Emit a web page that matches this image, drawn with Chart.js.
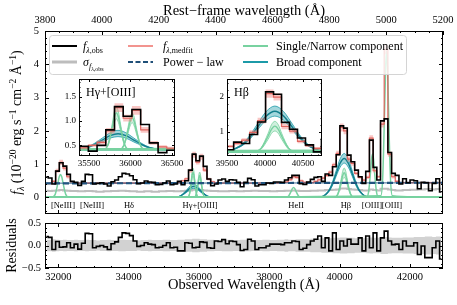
<!DOCTYPE html>
<html>
<head>
<meta charset="utf-8">
<script src="https://cdn.jsdelivr.net/npm/chart.js@4.4.1/dist/chart.umd.min.js"></script>
<style>
  body { margin: 0; background: #fff; }
  #wrap { position: relative; width: 457px; height: 305px; overflow: hidden; background: #fff; }
  #wrap canvas { position: absolute; }
</style>
</head>
<body>
<div id="wrap">
  <canvas id="mainChart" width="457" height="222" style="left:0;top:0"></canvas>
  <canvas id="resChart" width="457" height="87" style="left:0;top:218px"></canvas>
  <canvas id="insetHg" width="132" height="104" style="left:55px;top:72px"></canvas>
  <canvas id="insetHb" width="124" height="104" style="left:203px;top:72px"></canvas>
</div>
<script>
const FONT = 'Liberation Serif';
Chart.defaults.font.family = FONT;
Chart.defaults.color = '#000';
Chart.defaults.animation = false;
Chart.defaults.plugins.legend.display = false;
Chart.defaults.plugins.tooltip.enabled = false;

// observed spectrum, bin centres in observed Angstrom
const obsWave = [
  31660,31765,31870,31975,32080,32185,32290,32395,32500,32605,
  32710,32815,32920,33025,33130,33235,33340,33445,33550,33655,
  33760,33865,33970,34075,34180,34285,34390,34495,34600,34705,
  34810,34915,35020,35125,35230,35335,35440,35545,35650,35755,
  35860,35965,36070,36175,36280,36385,36490,36595,36700,36805,
  36910,37015,37120,37225,37330,37435,37540,37645,37750,37855,
  37960,38065,38170,38275,38380,38485,38590,38695,38800,38905,
  39010,39115,39220,39325,39430,39535,39640,39745,39850,39955,
  40060,40165,40270,40375,40480,40585,40690,40795,40900,41005,
  41110,41215,41320,41425,41530,41635,41740,41845,41950,42055,
  42160,42265,42370,42475,42580,42685,42790,42895
];
const obsFlux = [
  0.62,0.58,0.40,0.79,1.04,0.94,0.69,0.48,0.45,0.36,
  0.48,0.69,0.68,0.40,0.42,0.44,0.40,0.34,0.47,0.52,
  0.62,0.72,0.70,0.65,0.53,0.41,0.43,0.49,0.46,0.45,
  0.38,0.39,0.43,0.49,0.38,0.40,0.48,0.38,0.50,0.82,
  1.30,1.10,1.24,0.93,0.55,0.35,0.40,0.52,0.55,0.48,
  0.53,0.52,0.45,0.32,0.45,0.57,0.53,0.34,0.38,0.38,
  0.43,0.42,0.46,0.46,0.45,0.52,0.59,0.66,0.66,0.41,
  0.39,0.46,0.54,0.60,0.62,0.48,0.70,0.66,0.92,1.28,
  2.15,2.08,1.27,1.07,0.82,0.62,0.42,0.78,1.72,0.90,
  0.52,2.30,2.36,1.35,0.72,0.66,0.40,0.56,0.44,0.52,
  0.50,0.26,0.45,0.44,0.20,0.42,0.56,0.16
];
const obsSigma = [
  0.20,0.19,0.20,0.21,0.22,0.21,0.20,0.19,0.19,0.18,
  0.18,0.19,0.19,0.18,0.17,0.17,0.18,0.18,0.19,0.19,
  0.20,0.20,0.19,0.18,0.18,0.17,0.17,0.18,0.18,0.17,
  0.17,0.18,0.18,0.19,0.19,0.18,0.18,0.19,0.20,0.21,
  0.23,0.23,0.22,0.21,0.20,0.19,0.19,0.18,0.18,0.18,
  0.19,0.19,0.18,0.18,0.19,0.19,0.20,0.20,0.19,0.19,
  0.19,0.18,0.18,0.19,0.19,0.20,0.20,0.21,0.20,0.19,
  0.19,0.19,0.20,0.20,0.21,0.21,0.22,0.22,0.23,0.24,
  0.27,0.27,0.25,0.24,0.23,0.22,0.21,0.21,0.24,0.22,
  0.21,0.26,0.26,0.24,0.22,0.21,0.21,0.22,0.22,0.23,
  0.23,0.24,0.24,0.25,0.25,0.24,0.25,0.26
];
// median fit and its spread
const fitFlux = [
  0.42,0.42,0.48,0.80,1.05,0.88,0.62,0.47,0.43,0.43,
  0.43,0.43,0.43,0.43,0.43,0.43,0.43,0.43,0.43,0.43,
  0.43,0.43,0.43,0.43,0.43,0.43,0.43,0.43,0.43,0.43,
  0.43,0.43,0.43,0.43,0.43,0.43,0.45,0.50,0.56,0.80,
  1.28,1.06,1.22,0.82,0.55,0.47,0.44,0.43,0.43,0.43,
  0.43,0.43,0.43,0.43,0.43,0.43,0.43,0.43,0.43,0.43,
  0.43,0.43,0.43,0.43,0.43,0.46,0.53,0.62,0.60,0.50,
  0.45,0.44,0.44,0.48,0.53,0.58,0.66,0.76,0.98,1.32,
  2.10,2.00,1.15,1.02,0.72,0.60,0.52,0.60,1.78,0.80,
  0.62,2.20,4.45,1.30,0.62,0.48,0.44,0.44,0.44,0.44,
  0.44,0.44,0.44,0.44,0.44,0.44,0.44,0.44
];
const fitErr = [
  0.03,0.03,0.04,0.06,0.08,0.07,0.05,0.03,0.03,0.03,
  0.03,0.03,0.03,0.03,0.03,0.03,0.03,0.03,0.03,0.03,
  0.03,0.03,0.03,0.03,0.03,0.03,0.03,0.03,0.03,0.03,
  0.03,0.03,0.03,0.03,0.03,0.03,0.03,0.03,0.04,0.06,
  0.09,0.07,0.09,0.06,0.04,0.03,0.03,0.03,0.03,0.03,
  0.03,0.03,0.03,0.03,0.03,0.03,0.03,0.03,0.03,0.03,
  0.03,0.03,0.03,0.03,0.03,0.03,0.04,0.05,0.05,0.04,
  0.03,0.03,0.03,0.03,0.04,0.04,0.05,0.05,0.06,0.08,
  0.12,0.10,0.08,0.07,0.05,0.04,0.04,0.05,0.09,0.05,
  0.04,0.10,0.15,0.08,0.05,0.04,0.03,0.03,0.03,0.03,
  0.03,0.03,0.03,0.03,0.03,0.03,0.03,0.03
];
// residual panel
const resid = [
  0.20,0.18,-0.09,0.09,-0.04,-0.03,0.06,-0.05,0.03,-0.08,
  0.05,0.27,0.26,-0.05,-0.02,0.00,-0.03,-0.09,0.04,0.08,
  0.18,0.28,0.27,0.22,0.10,-0.02,0.00,0.06,0.03,0.02,
  -0.05,-0.04,0.00,0.06,-0.05,-0.04,-0.12,-0.12,0.06,0.05,
  -0.05,-0.04,0.08,0.07,-0.05,-0.06,0.10,0.09,0.13,0.04,
  0.10,0.09,0.02,-0.11,-0.09,0.14,0.10,-0.09,-0.05,-0.05,
  -0.01,0.03,0.03,0.03,0.02,0.06,0.06,0.10,0.09,-0.09,
  -0.06,0.02,0.10,0.14,0.21,-0.05,0.17,-0.12,0.28,-0.09,
  0.10,-0.01,0.14,0.03,0.03,0.17,-0.12,0.21,-0.05,0.28,
  -0.12,0.17,0.32,0.10,0.02,0.03,-0.09,0.10,-0.01,-0.01,
  0.06,-0.20,-0.01,-0.27,-0.27,-0.05,0.10,-0.30
];
const residErr = [
  0.13,0.13,0.14,0.13,0.12,0.13,0.12,0.12,0.13,0.12,
  0.12,0.13,0.12,0.12,0.11,0.12,0.12,0.13,0.12,0.12,
  0.13,0.13,0.12,0.12,0.12,0.11,0.12,0.12,0.13,0.12,
  0.12,0.12,0.13,0.13,0.12,0.12,0.13,0.13,0.14,0.14,
  0.15,0.15,0.14,0.14,0.13,0.13,0.12,0.12,0.13,0.13,
  0.13,0.12,0.12,0.13,0.13,0.13,0.12,0.12,0.12,0.13,
  0.13,0.12,0.12,0.13,0.13,0.14,0.13,0.13,0.14,0.14,
  0.14,0.14,0.15,0.15,0.15,0.16,0.16,0.16,0.17,0.17,
  0.18,0.18,0.17,0.17,0.16,0.16,0.16,0.17,0.18,0.17,
  0.17,0.19,0.19,0.18,0.17,0.17,0.17,0.18,0.18,0.18,
  0.19,0.19,0.19,0.20,0.20,0.19,0.20,0.20
];

// power-law continuum
const plWave = [31620, 42940];
const plFlux = [0.42, 0.44];
const plLo = [0.40, 0.42];
const plHi = [0.445, 0.465];

// single / narrow components
const neiiiWave = [31835,31910,31985,32023,32060,32098,32135,32210,32285];
const neiiiFlux = [0.01,0.09,0.42,0.61,0.69,0.61,0.42,0.09,0.01];
const heiiWave = [38480,38550,38620,38655,38690,38725,38760,38830,38900];
const heiiFlux = [0.00,0.04,0.18,0.26,0.30,0.26,0.18,0.04,0.00];
const o4959Wave = [40771,40826,40881,40909,40936,40964,40991,41046,41101];
const o4959Flux = [0.01,0.18,0.79,1.15,1.30,1.15,0.79,0.18,0.01];
const o5007Wave = [41170,41225,41280,41308,41335,41363,41390,41445,41500];
const o5007Flux = [0.05,0.59,2.67,3.88,4.40,3.88,2.67,0.59,0.05];
const hgnWave = [35680,35730,35780,35805,35830,35855,35880,35930,35980];
const hgnLo = [0.01,0.09,0.39,0.56,0.64,0.56,0.39,0.09,0.01];
const hgnMid = [0.01,0.10,0.46,0.67,0.76,0.67,0.46,0.10,0.01];
const hgnHi = [0.01,0.12,0.53,0.78,0.88,0.78,0.53,0.12,0.01];
const o4363Wave = [35870,35920,35970,35995,36020,36045,36070,36120,36170];
const o4363Lo = [0.01,0.08,0.34,0.49,0.56,0.49,0.34,0.08,0.01];
const o4363Mid = [0.01,0.09,0.40,0.58,0.66,0.58,0.40,0.09,0.01];
const o4363Hi = [0.01,0.10,0.46,0.67,0.76,0.67,0.46,0.10,0.01];
const hbnWave = [39860,39950,40040,40085,40130,40175,40220,40310,40400];
const hbnLo = [0.01,0.08,0.36,0.53,0.60,0.53,0.36,0.08,0.01];
const hbnMid = [0.01,0.10,0.45,0.65,0.74,0.65,0.45,0.10,0.01];
const hbnHi = [0.01,0.12,0.53,0.78,0.88,0.78,0.53,0.12,0.01];
// broad components
const hgbWave = [35280,35470,35565,35660,35755,35850,35945,36040,36135,36230,36420];
const hgbLo = [0.00,0.04,0.09,0.16,0.24,0.27,0.24,0.16,0.09,0.04,0.00];
const hgbMid = [0.00,0.04,0.11,0.20,0.29,0.33,0.29,0.20,0.11,0.04,0.00];
const hgbHi = [0.00,0.05,0.13,0.24,0.35,0.40,0.35,0.24,0.13,0.05,0.00];
const hbbWave = [39440,39670,39785,39900,40015,40130,40245,40360,40475,40590,40820];
const hbbLo = [0.01,0.14,0.33,0.63,0.91,1.03,0.91,0.63,0.33,0.14,0.01];
const hbbMid = [0.01,0.16,0.38,0.71,1.03,1.17,1.03,0.71,0.38,0.16,0.01];
const hbbHi = [0.01,0.18,0.43,0.80,1.16,1.32,1.16,0.80,0.43,0.18,0.01];

// continuum level the insets add under the components
const insetBase = [0.41, 0.42];

// line labels along the bottom of the main panel
const lineLabelText = ['[NeIII]', '[NeIII]', 'H\u03b4', 'H\u03b3+[OIII]', 'HeII', 'H\u03b2', '[OIII]', '[OIII]'];
const lineLabelWave = [32130, 32960, 34010, 36030, 38760, 40180, 40920, 41490];

// axes
const xMin = 31620, xMax = 42940;
const obsTicks = [32000, 34000, 36000, 38000, 40000, 42000];
const restTicks = [3800, 4000, 4200, 4400, 4600, 4800, 5000, 5200];
const fluxTicks = [0, 1, 2, 3, 4, 5];
const residTicks = [-0.5, 0, 0.5];

const BLACK = '#000', GRAY = '#bdbdbd', RED = '#e0645e', PINK = 'rgba(242,128,124,0.45)';
const PL = '#1f4f78', PL_FILL = 'rgba(37,92,135,0.6)';
const GREEN = '#78d2a0', GREEN_FILL = 'rgba(120,210,160,0.35)';
const TEAL = '#1c9aa8', TEAL_DARK = '#137f8d', TEAL_FILL = 'rgba(28,154,168,0.4)';

function steps(a, b, st) {
  const out = [];
  for (let v = Math.ceil(a / st - 1e-9) * st; v <= b + 1e-9; v += st) out.push(+v.toFixed(6));
  return out;
}

function axis(pos, min, max, ticks, fmt, size, fontSize, pad, title) {
  const horiz = pos === 'top' || pos === 'bottom';
  return {
    type: 'linear', position: pos, min: min, max: max,
    grid: { display: false, drawTicks: false },
    border: { display: false },
    ticks: { display: !!fmt, autoSkip: false, maxRotation: 0, padding: pad || 0,
             font: { size: fontSize || 10 }, color: '#000', callback: fmt || (() => '') },
    title: title || { display: false },
    afterBuildTicks: s => { s.ticks = ticks.map(v => ({ value: v })); },
    afterFit: s => {
      if (horiz) s.height = size; else s.width = size;
      s.paddingLeft = 0; s.paddingRight = 0; s.paddingTop = 0; s.paddingBottom = 0;
    }
  };
}

function framePlugin(spec, majLen, minLen) {
  return {
    id: 'frame',
    afterDatasetsDraw(chart) {
      const ctx = chart.ctx, a = chart.chartArea;
      ctx.save();
      ctx.strokeStyle = '#000';
      ctx.lineWidth = 1;
      spec.forEach(t => {
        const sc = chart.scales[t.axis];
        const one = (v, len) => {
          if (v < sc.min || v > sc.max) return;
          const p = Math.round(sc.getPixelForValue(v)) + 0.5;
          ctx.beginPath();
          if (t.side === 'bottom') { ctx.moveTo(p, a.bottom); ctx.lineTo(p, a.bottom - len); }
          else if (t.side === 'top') { ctx.moveTo(p, a.top); ctx.lineTo(p, a.top + len); }
          else if (t.side === 'left') { ctx.moveTo(a.left, p); ctx.lineTo(a.left + len, p); }
          else { ctx.moveTo(a.right, p); ctx.lineTo(a.right - len, p); }
          ctx.stroke();
        };
        t.major.forEach(v => one(v, majLen));
        t.minor.forEach(v => one(v, minLen));
      });
      ctx.strokeRect(a.left + 0.5, a.top + 0.5, a.right - a.left - 1, a.bottom - a.top - 1);
      ctx.restore();
    }
  };
}

// text with sub/superscripts
function richText(ctx, x, y, segs, base, center) {
  let w = 0;
  const fontOf = s => (s.it ? 'italic ' : '') + (s.s || base) + 'px ' + FONT;
  segs.forEach(s => { ctx.font = fontOf(s); s.w = ctx.measureText(s.t).width; w += s.w; });
  let cx = center ? x - w / 2 : x;
  segs.forEach(s => { ctx.font = fontOf(s); ctx.fillText(s.t, cx, y + (s.dy || 0)); cx += s.w; });
}

const stepPts = ys => obsWave.map((x, i) => ({ x: x, y: ys[i] }));
const ds = (data, color, width, order, extra) => Object.assign({
  data: data, borderColor: color, borderWidth: width, pointRadius: 0, fill: false, order: order, clip: 0
}, extra || {});

function componentSets(base) {
  const out = [];
  const pts = (xs, ys) => [{ x: xMin, y: base }].concat(xs.map((x, i) => ({ x: x, y: ys[i] + base })), [{ x: xMax, y: base }]);
  const cub = { cubicInterpolationMode: 'monotone' };
  [[hgbWave, hgbLo, hgbMid, hgbHi], [hbbWave, hbbLo, hbbMid, hbbHi]].forEach(c => {
    out.push(ds(pts(c[0], c[1]), TEAL, 0.8, 8, cub));
    out.push(ds(pts(c[0], c[3]), TEAL, 0.8, 8, Object.assign({ fill: '-1', backgroundColor: TEAL_FILL }, cub)));
    out.push(ds(pts(c[0], c[2]), TEAL_DARK, 1.4, 7, cub));
  });
  [[hgnWave, hgnLo, hgnMid, hgnHi], [o4363Wave, o4363Lo, o4363Mid, o4363Hi], [hbnWave, hbnLo, hbnMid, hbnHi]].forEach(c => {
    out.push(ds(pts(c[0], c[1]), GREEN, 0.8, 7, cub));
    out.push(ds(pts(c[0], c[3]), GREEN, 0.8, 7, Object.assign({ fill: '-1', backgroundColor: GREEN_FILL }, cub)));
    out.push(ds(pts(c[0], c[2]), GREEN, 1.4, 6, cub));
  });
  [[neiiiWave, neiiiFlux], [heiiWave, heiiFlux], [o4959Wave, o4959Flux], [o5007Wave, o5007Flux]].forEach(c => {
    out.push(ds(pts(c[0], c[1]), GREEN, 1.5, 6, cub));
  });
  return out;
}

function fitSets() {
  return [
    ds(stepPts(fitFlux.map((v, i) => v - fitErr[i])), 'rgba(0,0,0,0)', 0, 5, { stepped: 'middle' }),
    ds(stepPts(fitFlux.map((v, i) => v + fitErr[i])), 'rgba(0,0,0,0)', 0, 5, { stepped: 'middle', fill: '-1', backgroundColor: PINK }),
    ds(stepPts(fitFlux), RED, 1.2, 4, { stepped: 'middle' }),
    ds(stepPts(obsFlux), BLACK, 1.6, 2, { stepped: 'middle' })
  ];
}

// ---------- main panel ----------
const mainSets = [ds(stepPts(obsSigma), GRAY, 2, 9, { stepped: 'middle' })]
  .concat(componentSets(0), fitSets(), [
    ds(plWave.map((x, i) => ({ x: x, y: plLo[i] })), 'rgba(0,0,0,0)', 0, 3),
    ds(plWave.map((x, i) => ({ x: x, y: plHi[i] })), 'rgba(0,0,0,0)', 0, 3, { fill: '-1', backgroundColor: PL_FILL }),
    ds(plWave.map((x, i) => ({ x: x, y: plFlux[i] })), PL, 2.2, 3, { borderDash: [6, 3] })
  ]);

const mainDecor = {
  id: 'mainDecor',
  afterDraw(chart) {
    const ctx = chart.ctx, a = chart.chartArea, sx = chart.scales.x;
    ctx.save();
    ctx.fillStyle = '#000';
    // y label
    ctx.save();
    ctx.translate(21, (a.top + a.bottom) / 2);
    ctx.rotate(-Math.PI / 2);
    ctx.textBaseline = 'alphabetic';
    richText(ctx, 0, 0, [
      { t: 'f', it: true }, { t: '\u03bb', it: true, s: 9.5, dy: 3 }, { t: ' (10' }, { t: '\u221220', s: 9.5, dy: -5 },
      { t: ' erg s' }, { t: '\u22121', s: 9.5, dy: -5 }, { t: ' cm' }, { t: '\u22122', s: 9.5, dy: -5 },
      { t: ' \u00c5' }, { t: '\u22121', s: 9.5, dy: -5 }, { t: ')' }
    ], 14, true);
    ctx.restore();
    // line labels
    ctx.font = '8.5px ' + FONT;
    ctx.textAlign = 'center';
    ctx.textBaseline = 'middle';
    lineLabelText.forEach((t, i) => ctx.fillText(t, sx.getPixelForValue(lineLabelWave[i]), 206));
    ctx.textAlign = 'left';
    // legend
    const bx = 49, by = 35, bw = 357, bh = 39;
    ctx.beginPath();
    ctx.roundRect(bx + 0.5, by + 0.5, bw, bh, 3);
    ctx.fillStyle = 'rgba(255,255,255,0.8)';
    ctx.fill();
    ctx.strokeStyle = '#d4d4d4';
    ctx.lineWidth = 1;
    ctx.stroke();
    const handle = (x, y, color, w, dash) => {
      ctx.beginPath();
      ctx.setLineDash(dash || []);
      ctx.strokeStyle = color; ctx.lineWidth = w;
      ctx.moveTo(x, y); ctx.lineTo(x + 25, y); ctx.stroke();
      ctx.setLineDash([]);
    };
    const r1 = 46, r2 = 62;
    handle(52, r1, BLACK, 2); handle(52, r2, GRAY, 3);
    handle(128, r1, '#f2948f', 2); handle(128, r2, PL, 2, [5, 2.5]);
    handle(243, r1, GREEN, 2); handle(243, r2, TEAL, 2);
    ctx.fillStyle = '#000';
    ctx.textBaseline = 'alphabetic';
    richText(ctx, 83, r1 + 4, [{ t: 'f', it: true }, { t: '\u03bb', it: true, s: 8, dy: 3 }, { t: ',obs', s: 8, dy: 3 }], 12);
    richText(ctx, 83, r2 + 4, [{ t: '\u03c3', it: true }, { t: 'f', it: true, s: 8, dy: 3 }, { t: '\u03bb', it: true, s: 6, dy: 5 }, { t: ',obs', s: 6, dy: 5 }], 12);
    richText(ctx, 163, r1 + 4, [{ t: 'f', it: true }, { t: '\u03bb', it: true, s: 8, dy: 3 }, { t: ',medfit', s: 8, dy: 3 }], 12);
    richText(ctx, 163, r2 + 4, [{ t: 'Power \u2212 law' }], 12);
    richText(ctx, 276, r1 + 4, [{ t: 'Single/Narrow component' }], 12);
    richText(ctx, 276, r2 + 4, [{ t: 'Broad component' }], 12);
    ctx.restore();
  }
};

new Chart(document.getElementById('mainChart'), {
  type: 'line',
  data: { datasets: mainSets },
  options: {
    responsive: false, animation: false, events: [],
    layout: { padding: { left: 0, right: 14, top: 0, bottom: 0 } },
    scales: {
      x: axis('bottom', xMin, xMax, obsTicks, null, 8),
      xTop: axis('top', 3800, 5200, restTicks, v => String(v), 31, 10.5, 4,
        { display: true, text: 'Rest\u2212frame wavelength (\u00c5)', font: { size: 14.5 }, padding: { top: 2, bottom: 0 }, color: '#000' }),
      y: axis('left', -0.5, 5, fluxTicks, v => String(v), 45, 10.5, 6)
    }
  },
  plugins: [framePlugin([
    { axis: 'x', side: 'bottom', major: obsTicks, minor: steps(xMin, xMax, 500) },
    { axis: 'xTop', side: 'top', major: restTicks, minor: steps(3800, 5200, 50) },
    { axis: 'y', side: 'left', major: fluxTicks, minor: steps(-0.5, 5, 0.2) },
    { axis: 'y', side: 'right', major: fluxTicks, minor: steps(-0.5, 5, 0.2) }
  ], 4, 2), mainDecor]
});

// ---------- residual panel ----------
new Chart(document.getElementById('resChart'), {
  type: 'line',
  data: { datasets: [
    ds(stepPts(residErr.map(v => -v)), 'rgba(0,0,0,0)', 0, 3, { stepped: 'middle' }),
    ds(stepPts(residErr), 'rgba(0,0,0,0)', 0, 3, { stepped: 'middle', fill: '-1', backgroundColor: '#d2d2d2' }),
    ds(stepPts(resid), BLACK, 1.6, 1, { stepped: 'middle' })
  ] },
  options: {
    responsive: false, animation: false, events: [],
    layout: { padding: { left: 0, right: 14, top: 5, bottom: 0 } },
    scales: {
      x: axis('bottom', xMin, xMax, obsTicks, v => String(v), 37, 10.5, 3,
        { display: true, text: 'Observed Wavelength (\u00c5)', font: { size: 14.5 }, padding: { top: 0, bottom: 11 }, color: '#000' }),
      y: axis('left', -0.5, 0.5, residTicks, v => (v < 0 ? '\u2212' + (-v).toFixed(1) : v.toFixed(1)), 45, 10.5, 4)
    }
  },
  plugins: [framePlugin([
    { axis: 'x', side: 'bottom', major: obsTicks, minor: steps(xMin, xMax, 500) },
    { axis: 'x', side: 'top', major: obsTicks, minor: steps(xMin, xMax, 500) },
    { axis: 'y', side: 'left', major: residTicks, minor: steps(-0.5, 0.5, 0.1) },
    { axis: 'y', side: 'right', major: residTicks, minor: steps(-0.5, 0.5, 0.1) }
  ], 4, 2), {
    id: 'resLabel',
    afterDraw(chart) {
      const ctx = chart.ctx, a = chart.chartArea;
      ctx.save();
      ctx.translate(16, (a.top + a.bottom) / 2);
      ctx.rotate(-Math.PI / 2);
      ctx.fillStyle = '#000';
      ctx.font = '14px ' + FONT;
      ctx.textAlign = 'center';
      ctx.fillText('Residuals', 0, 0);
      ctx.restore();
    }
  }]
});

// ---------- insets ----------
function inset(id, base, xr, yr, xt, yt, yfmt, yMinor, title, rightPad) {
  new Chart(document.getElementById(id), {
    type: 'line',
    data: { datasets: componentSets(base).concat(fitSets()) },
    options: {
      responsive: false, animation: false, events: [],
      layout: { padding: { left: 0, right: rightPad, top: 7, bottom: 0 } },
      scales: {
        x: axis('bottom', xr[0], xr[1], xt, v => String(v), 20, 9, 2),
        y: axis('left', yr[0], yr[1], yt, yfmt, 24, 9, 3)
      }
    },
    plugins: [{
      id: 'bg',
      beforeDatasetsDraw(chart) {
        const a = chart.chartArea;
        chart.ctx.save();
        chart.ctx.fillStyle = '#fff';
        chart.ctx.fillRect(a.left, a.top, a.right - a.left, a.bottom - a.top);
        chart.ctx.restore();
      },
      afterDraw(chart) {
        const ctx = chart.ctx, a = chart.chartArea;
        ctx.save();
        ctx.fillStyle = '#000';
        ctx.font = '12px ' + FONT;
        ctx.fillText(title, a.left + 7, a.top + 17);
        ctx.restore();
      }
    }, framePlugin([
      { axis: 'x', side: 'bottom', major: xt, minor: steps(xr[0], xr[1], 100) },
      { axis: 'x', side: 'top', major: xt, minor: steps(xr[0], xr[1], 100) },
      { axis: 'y', side: 'left', major: yt, minor: steps(yr[0], yr[1], yMinor) },
      { axis: 'y', side: 'right', major: yt, minor: steps(yr[0], yr[1], yMinor) }
    ], 3, 1.5)]
  });
}

inset('insetHg', insetBase[0], [35380, 36536], [0.28, 1.87], [35500, 36000, 36500], [0.5, 1.0, 1.5],
  v => v.toFixed(1), 0.1, 'H\u03b3+[OIII]', 12);
inset('insetHb', insetBase[1], [39500, 40750], [0.3, 2.52], [39500, 40000, 40500], [1, 2],
  v => String(v), 0.2, 'H\u03b2', 5);
</script>
</body>
</html>
